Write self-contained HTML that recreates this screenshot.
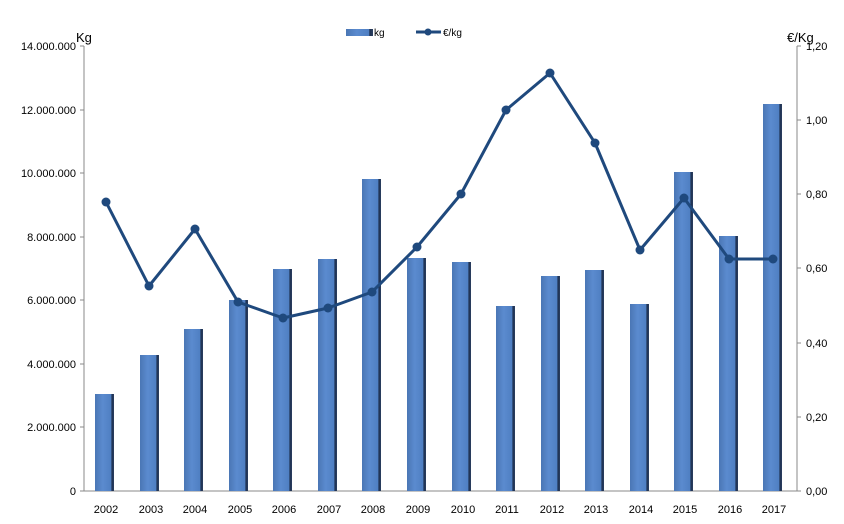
<!DOCTYPE html>
<html><head><meta charset="utf-8"><style>body{margin:0;background:#fff}svg{display:block;font-family:"Liberation Sans",sans-serif}</style></head><body>
<svg width="844" height="524" xmlns="http://www.w3.org/2000/svg">
<defs>
<linearGradient id="bg" x1="0" x2="1" y1="0" y2="0">
<stop offset="0" stop-color="#4a76b4"/><stop offset="0.4" stop-color="#5b8bcf"/><stop offset="0.85" stop-color="#4f7fc2"/><stop offset="0.88" stop-color="#1e3050"/><stop offset="1" stop-color="#2a3e60"/>
</linearGradient>
</defs>
<g font-size="11" fill="#000">
<line x1="84" y1="46" x2="84" y2="491" stroke="#888"/>
<line x1="797" y1="46" x2="797" y2="491" stroke="#888"/>
<line x1="84" y1="491" x2="797" y2="491" stroke="#888"/>
<g stroke="#888">
<line x1="80" y1="46" x2="84" y2="46"/><line x1="80" y1="110" x2="84" y2="110"/><line x1="80" y1="173" x2="84" y2="173"/><line x1="80" y1="237" x2="84" y2="237"/><line x1="80" y1="300" x2="84" y2="300"/><line x1="80" y1="364" x2="84" y2="364"/><line x1="80" y1="427" x2="84" y2="427"/><line x1="80" y1="491" x2="84" y2="491"/>
<line x1="797" y1="46" x2="801" y2="46"/><line x1="797" y1="120" x2="801" y2="120"/><line x1="797" y1="194" x2="801" y2="194"/><line x1="797" y1="268" x2="801" y2="268"/><line x1="797" y1="343" x2="801" y2="343"/><line x1="797" y1="417" x2="801" y2="417"/><line x1="797" y1="491" x2="801" y2="491"/>
</g>
<g text-anchor="end">
<text x="76" y="50">14.000.000</text><text x="76" y="114">12.000.000</text><text x="76" y="177">10.000.000</text><text x="76" y="241">8.000.000</text><text x="76" y="304">6.000.000</text><text x="76" y="368">4.000.000</text><text x="76" y="431">2.000.000</text><text x="76" y="495">0</text>
</g>
<g>
<text x="806" y="50">1,20</text><text x="806" y="124">1,00</text><text x="806" y="198">0,80</text><text x="806" y="272">0,60</text><text x="806" y="347">0,40</text><text x="806" y="421">0,20</text><text x="806" y="495">0,00</text>
</g>
<text x="76" y="42" font-size="13">Kg</text>
<text x="787" y="42" font-size="13">€/Kg</text>
<g text-anchor="middle">
<text x="106" y="513">2002</text><text x="151" y="513">2003</text><text x="195" y="513">2004</text><text x="240" y="513">2005</text><text x="284" y="513">2006</text><text x="329" y="513">2007</text><text x="373" y="513">2008</text><text x="418" y="513">2009</text><text x="463" y="513">2010</text><text x="507" y="513">2011</text><text x="552" y="513">2012</text><text x="596" y="513">2013</text><text x="641" y="513">2014</text><text x="685" y="513">2015</text><text x="730" y="513">2016</text><text x="774" y="513">2017</text>
</g>
<g fill="url(#bg)">
<rect x="95" y="394" width="19" height="97"/>
<rect x="140" y="355" width="19" height="136"/>
<rect x="184" y="329" width="19" height="162"/>
<rect x="229" y="300" width="19" height="191"/>
<rect x="273" y="269" width="19" height="222"/>
<rect x="318" y="259" width="19" height="232"/>
<rect x="362" y="179" width="19" height="312"/>
<rect x="407" y="258" width="19" height="233"/>
<rect x="452" y="262" width="19" height="229"/>
<rect x="496" y="306" width="19" height="185"/>
<rect x="541" y="276" width="19" height="215"/>
<rect x="585" y="270" width="19" height="221"/>
<rect x="630" y="304" width="19" height="187"/>
<rect x="674" y="172" width="19" height="319"/>
<rect x="719" y="236" width="19" height="255"/>
<rect x="763" y="104" width="19" height="387"/>
</g>
<polyline fill="none" stroke="#1f497d" stroke-width="3" stroke-linejoin="round" points="106,202 149,286 195,229 238,302 283,318 328,308 372,292 417,247 461,194 506,110 550,73 595,143 640,250 684,198 729,259 773,259"/>
<g fill="#1f497d">
<circle cx="106" cy="202" r="4.5"/><circle cx="149" cy="286" r="4.5"/><circle cx="195" cy="229" r="4.5"/><circle cx="238" cy="302" r="4.5"/><circle cx="283" cy="318" r="4.5"/><circle cx="328" cy="308" r="4.5"/><circle cx="372" cy="292" r="4.5"/><circle cx="417" cy="247" r="4.5"/><circle cx="461" cy="194" r="4.5"/><circle cx="506" cy="110" r="4.5"/><circle cx="550" cy="73" r="4.5"/><circle cx="595" cy="143" r="4.5"/><circle cx="640" cy="250" r="4.5"/><circle cx="684" cy="198" r="4.5"/><circle cx="729" cy="259" r="4.5"/><circle cx="773" cy="259" r="4.5"/>
</g>
<rect x="346" y="29" width="27" height="7" fill="url(#bg)"/>
<text x="374" y="36" font-size="10">kg</text>
<line x1="416" y1="32" x2="441" y2="32" stroke="#1f497d" stroke-width="3"/>
<circle cx="428" cy="32" r="3.5" fill="#1f497d"/>
<text x="443" y="36" font-size="10">€/kg</text>
</g>
</svg>
</body></html>
